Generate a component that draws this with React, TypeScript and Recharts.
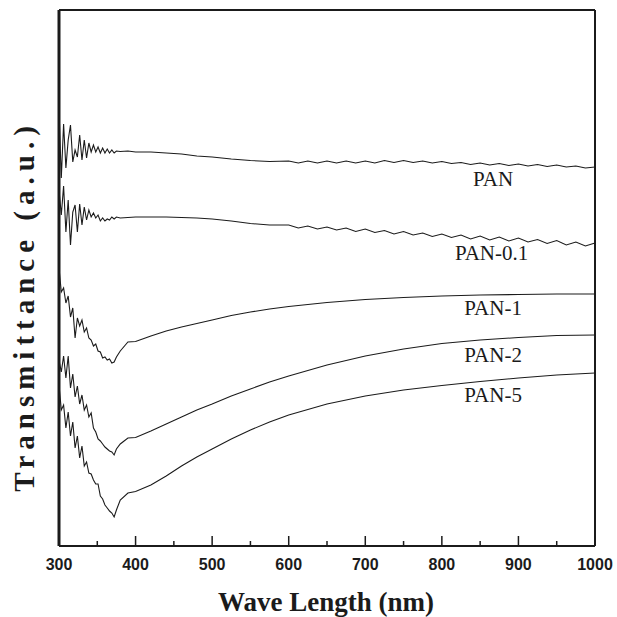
import { LineChart, Line, XAxis, YAxis, ReferenceDot } from 'recharts';

// wavelength grids (nm)
const headNm = [300, 303, 306, 309, 312, 315, 318, 321, 324, 327, 330, 333, 336, 339, 342, 345, 348, 351, 354, 357, 360, 363, 366, 369, 372, 375];
const bodyNm = [380, 390, 400, 420, 440, 460, 480, 500, 525, 550, 575];
const tailNmFine = [600, 612.5, 625, 637.5, 650, 662.5, 675, 687.5, 700, 712.5, 725, 737.5, 750, 762.5, 775, 787.5, 800, 812.5, 825, 837.5, 850, 862.5, 875, 887.5, 900, 912.5, 925, 937.5, 950, 962.5, 975, 987.5, 1000];
const tailNm = [600, 650, 700, 750, 800, 850, 900, 950, 1000];

// transmittance (a.u.)
const panHead = [436, 368, 422, 378, 406, 421, 384, 396, 389, 411, 386, 406, 388, 403, 394, 401, 394, 399, 393, 398, 393, 397, 393, 396, 393, 395];
const panBody = [394.5, 395, 394, 394, 393, 392, 390, 389, 387, 385.5, 384.5];
const panTail = [385, 383, 385, 383, 385, 383, 385, 383, 385, 383, 385.5, 383.5, 385.5, 383.5, 385, 383, 384.5, 382.5, 383.5, 381.5, 383, 381, 382.5, 380.5, 382, 380, 381.5, 379.5, 381, 379, 380, 378, 379];

const pan01Head = [356, 331, 360, 314, 346, 301, 334, 341, 314, 342, 321, 339, 326, 336, 329, 333, 328, 331, 325, 328, 325, 327, 326, 329, 327, 329];
const pan01Body = [328, 328.5, 329, 329, 329, 328.5, 328, 327, 325, 322.5, 321];
const pan01Tail = [321, 318, 320, 317, 319, 316, 318, 314.5, 317, 313.5, 315.5, 312, 314.5, 311, 313, 309.5, 312, 308.5, 311, 307, 310, 306, 309, 305, 308, 304, 306.5, 302.5, 305.5, 301, 304, 300, 303];

const pan1Head = [278, 254, 258, 243, 250, 229, 238, 208, 228, 220, 226, 214, 218, 208, 206, 200, 202, 195, 194, 188, 189, 186, 187, 183, 184, 189];
const pan1Body = [195, 204, 204.5, 210, 215, 219, 222.5, 226, 230.5, 234, 237];
const pan1Tail = [239.5, 243.5, 246.5, 248.5, 250, 251, 251.5, 252, 252];

const pan2Head = [186, 174, 190, 168, 190, 158, 172, 149, 160, 142, 151, 136, 141, 129, 133, 118, 114, 107, 105, 102, 99, 97, 95, 94, 91, 97];
const pan2Body = [102, 108, 108.5, 115, 122, 129, 136, 142, 150, 157, 164];
const pan2Tail = [170, 181, 190, 197, 202.5, 206, 208.5, 210.5, 211];

const pan5Head = [161, 136, 141, 118, 134, 110, 124, 98, 110, 88, 100, 80, 84, 73, 72, 66, 62, 62, 50, 47, 41, 38, 35, 33, 29, 36];
const pan5Body = [46, 53, 54.5, 61, 70, 80, 89, 97, 107, 116, 124];
const pan5Tail = [131, 142, 150, 156, 160.5, 164.5, 168, 171, 173];

const xTicks = [300, 350, 400, 450, 500, 550, 600, 650, 700, 750, 800, 850, 900, 950, 1000];

const labels = [
  { name: 'PAN', nm: 867, t: 367 },
  { name: 'PAN-0.1', nm: 865, t: 293 },
  { name: 'PAN-1', nm: 867, t: 238 },
  { name: 'PAN-2', nm: 867, t: 191 },
  { name: 'PAN-5', nm: 867, t: 151 },
];

function join(parts: [number[], number[]][]) {
  const out: { nm: number; t: number }[] = [];
  parts.forEach(([xs, ys]) => xs.forEach((nm, i) => out.push({ nm, t: ys[i] })));
  return out;
}

const series = [
  join([[headNm, panHead], [bodyNm, panBody], [tailNmFine, panTail]]),
  join([[headNm, pan01Head], [bodyNm, pan01Body], [tailNmFine, pan01Tail]]),
  join([[headNm, pan1Head], [bodyNm, pan1Body], [tailNm, pan1Tail]]),
  join([[headNm, pan2Head], [bodyNm, pan2Body], [tailNm, pan2Tail]]),
  join([[headNm, pan5Head], [bodyNm, pan5Body], [tailNm, pan5Tail]]),
];

const ink = '#1b1b1b';

function BottomTick(props: any) {
  const { x, y, payload } = props;
  const major = payload.value % 100 === 0;
  return (
    <g>
      <line x1={x} x2={x} y1={y} y2={y - (major ? 10 : 5)} stroke={ink} strokeWidth={1.5} />
      {major && (
        <text x={x} y={y + 24} textAnchor="middle" fontFamily="Liberation Sans" fontWeight="bold" fontSize={16} fill={ink}>
          {payload.value}
        </text>
      )}
    </g>
  );
}

function TopTick(props: any) {
  const { x, y } = props;
  return <line x1={x} x2={x} y1={y} y2={y + 3} stroke={ink} strokeWidth={1} />;
}

export default function App() {
  return (
    <div style={{ position: 'absolute', left: 0, top: 0, width: 617, height: 617, background: '#fff' }}>
      <LineChart width={617} height={617} margin={{ top: 9, right: 21, bottom: 70, left: 58 }}>
        <XAxis
          type="number"
          dataKey="nm"
          domain={[300, 1000]}
          ticks={xTicks}
          interval={0}
          height={1}
          tickSize={0}
          tickMargin={0}
          tick={<BottomTick />}
          tickLine={false}
          axisLine={{ stroke: ink, strokeWidth: 2 }}
        />
        <XAxis
          xAxisId="top"
          orientation="top"
          type="number"
          dataKey="nm"
          domain={[300, 1000]}
          ticks={xTicks}
          interval={0}
          height={1}
          tickSize={0}
          tickMargin={0}
          tick={<TopTick />}
          tickLine={false}
          axisLine={{ stroke: ink, strokeWidth: 2 }}
        />
        <YAxis type="number" domain={[0, 536]} width={1} tick={false} tickLine={false} axisLine={{ stroke: ink, strokeWidth: 3 }} />
        <YAxis yAxisId="right" orientation="right" type="number" domain={[0, 536]} width={1} tick={false} tickLine={false} axisLine={{ stroke: ink, strokeWidth: 2 }} />
        {series.map((d, i) => (
          <Line
            key={i}
            data={d}
            dataKey="t"
            type="linear"
            dot={false}
            stroke={ink}
            strokeWidth={1.1}
            isAnimationActive={false}
          />
        ))}
        {labels.map((l) => (
          <ReferenceDot
            key={l.name}
            x={l.nm}
            y={l.t}
            r={0}
            stroke="none"
            fill="none"
            label={{ value: l.name, position: 'center', fill: ink, fontSize: 21, fontFamily: 'Liberation Serif' }}
          />
        ))}
      </LineChart>
      <svg width={617} height={617} style={{ position: 'absolute', left: 0, top: 0, pointerEvents: 'none' }}>
        <text x={326} y={611} textAnchor="middle" fontFamily="Liberation Serif" fontWeight="bold" fontSize={27} fill={ink}>
          Wave Length (nm)
        </text>
        <text
          transform="translate(34, 306) rotate(-90)"
          textAnchor="middle"
          fontFamily="Liberation Serif"
          fontWeight="bold"
          fontSize={29}
          letterSpacing={6}
          fill={ink}
        >
          Transmittance (a.u.)
        </text>
      </svg>
    </div>
  );
}
